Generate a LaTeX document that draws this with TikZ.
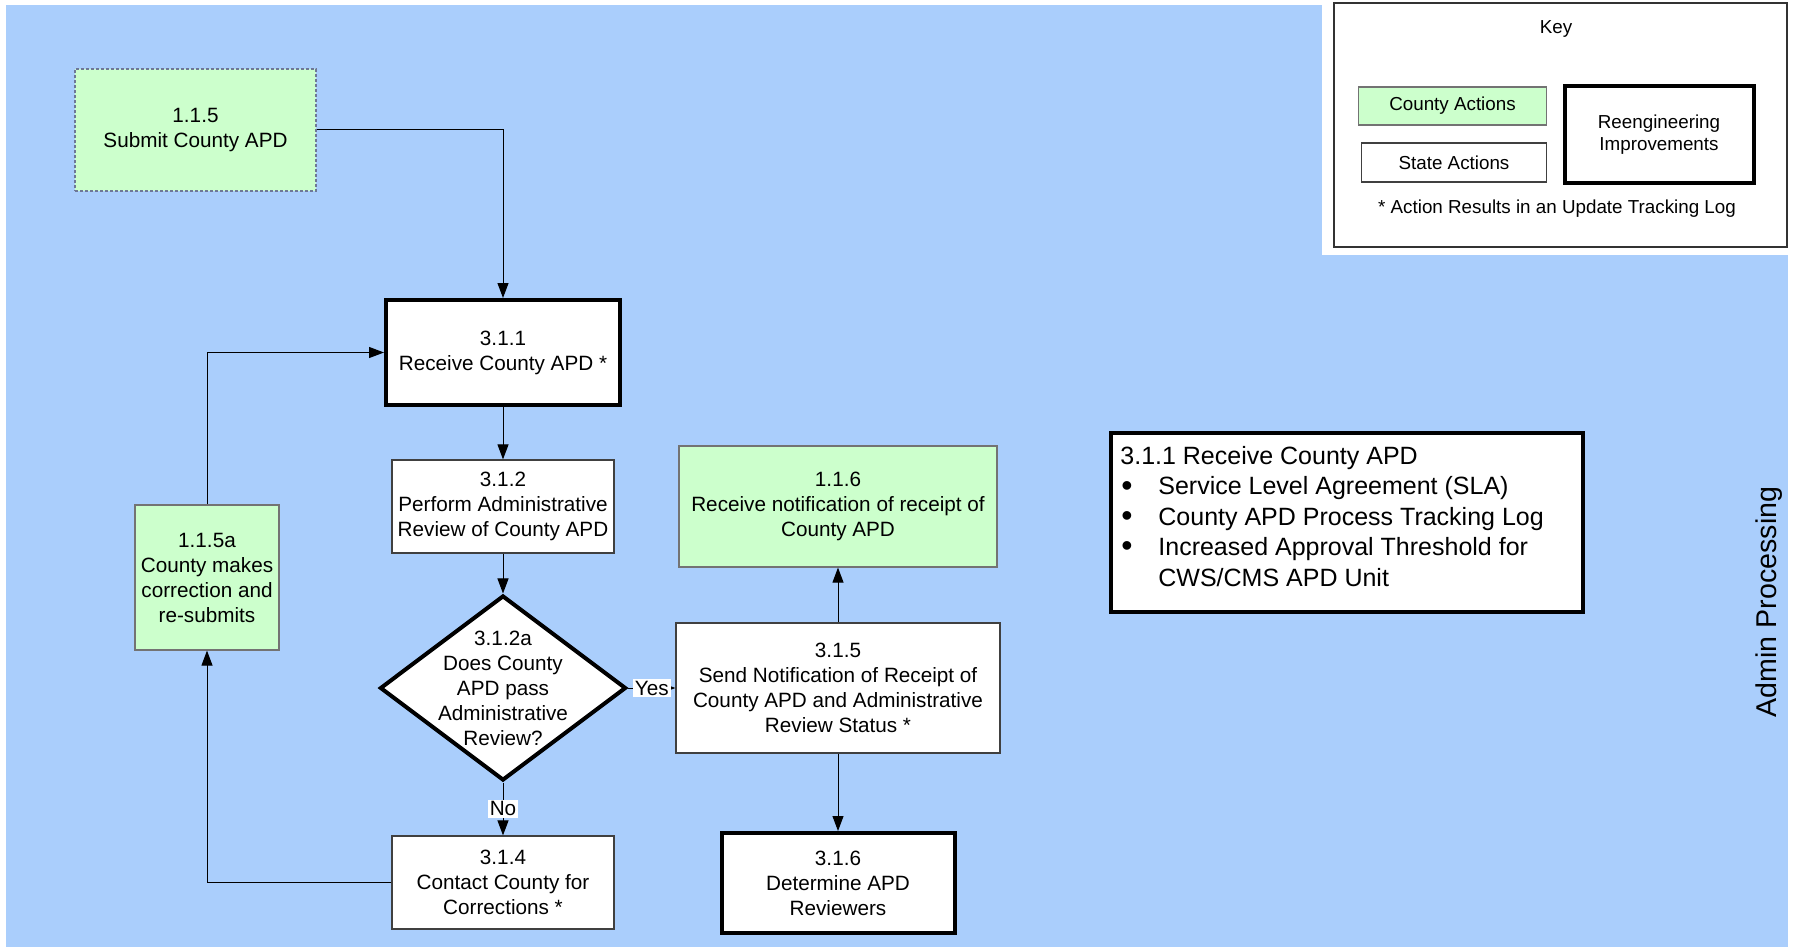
\documentclass[tikz,border=0pt]{standalone}
\usepackage{fontspec}
\setmainfont{Liberation Sans}
\usetikzlibrary{arrows.meta}
\usetikzlibrary{shapes.geometric}
\definecolor{lanebg}{RGB}{170,206,252}
\definecolor{countyfill}{RGB}{204,255,204}
\definecolor{dashgray}{RGB}{110,120,150}

\begin{document}
\begin{tikzpicture}[x=0.5pt, y=-0.5pt,
    every node/.style={font=\fontsize{10.35}{12.5}\selectfont, align=center, inner sep=0pt},
    state/.style={rectangle, draw=black!75, line width=0.6pt, fill=white},
    county/.style={rectangle, draw=black!55, line width=0.6pt, fill=countyfill},
    improved/.style={rectangle, draw=black, line width=2pt, fill=white},
    keyfont/.style={font=\fontsize{9.4}{11}\selectfont},
    conn/.style={-{Triangle[length=7.5pt, width=5.5pt]}, line width=0.5pt},
    tag/.style={fill=white, inner sep=1pt}]
      \useasboundingbox (0, 0) rectangle (1794, 947);
      \fill[lanebg] (6, 5) rectangle (1788, 947);
      \fill[white] (1322, 0) rectangle (1788, 255);

      % flow
      \node[county, draw=dashgray, dash pattern=on 1.5pt off 1pt, minimum width=120.5pt, minimum height=61pt] (115) at (195.5, 130) {1.1.5\\Submit County APD};
      \node[improved, minimum width=117pt, minimum height=52.5pt] (311) at (503, 352.5) {3.1.1\\Receive County APD *};
      \node[state, minimum width=111pt, minimum height=46.5pt] (312) at (503, 506.5) {3.1.2\\Perform Administrative\\Review of County APD};
      \node[diamond, draw=black, line width=2pt, fill=white, minimum width=123pt, minimum height=92.5pt] (312a) at (503, 688) {};
      \node (312atext) at (312a) {3.1.2a\\Does County\\APD pass\\Administrative\\Review?};
      \node[state, minimum width=162pt, minimum height=65pt] (315) at (838, 688) {3.1.5\\Send Notification of Receipt of\\County APD and Administrative\\Review Status *};
      \node[county, minimum width=159pt, minimum height=60.5pt] (116) at (838, 506.5) {1.1.6\\Receive notification of receipt of\\County APD};
      \node[improved, minimum width=116.5pt, minimum height=50pt] (316) at (838, 883) {3.1.6\\Determine APD\\Reviewers};
      \node[state, minimum width=111pt, minimum height=46.5pt] (314) at (503, 882.5) {3.1.4\\Contact County for\\Corrections *};
      \node[county, minimum width=72pt, minimum height=72.5pt] (115a) at (207, 577.5) {1.1.5a\\County makes\\correction and\\re-submits};

      \draw[conn] (115.east) -| (311.north);
      \draw[conn] (311) -- (312);
      \draw[conn] (312) -- (312a);
      \draw[conn] (312a) -- node[tag] {Yes} (315);
      \draw[conn] (312a) -- node[tag] {No} (314);
      \draw[conn] (315) -- (116);
      \draw[conn] (315) -- (316);
      \draw[conn] (314.west) -| (115a.south);
      \draw[conn] (115a.north) |- (311.west);

      % key
      \node[draw=black!80, line width=0.6pt, minimum width=226.5pt, minimum height=122pt] (key) at (1560.5, 125) {};
      \node[keyfont] (keytitle) at (1556, 29) {Key};
      \node[county, keyfont, minimum width=94pt, minimum height=19pt] (keycounty) at (1452.5, 106) {County Actions};
      \node[state, keyfont, minimum width=92.5pt, minimum height=19.5pt] (keystate) at (1454, 162.5) {State Actions};
      \node[improved, keyfont, minimum width=94.5pt, minimum height=48.5pt] (keyreeng) at (1659, 134.5) {Reengineering\\Improvements};
      \node[keyfont] (keynote) at (1557, 209) {* Action Results in an Update Tracking Log};

      % notes
      \node[improved, minimum width=236pt, minimum height=89.5pt] (sla) at (1347, 522.5) {};
      \node[anchor=north west, align=left, font=\fontsize{12.5}{15.2}\selectfont] (slatext) at (1120, 446) {3.1.1 Receive County APD\\
        \makebox[19pt][l]{\hspace{0.5pt}\raisebox{-0.6pt}{\fontsize{16}{16}\selectfont\textbullet}}Service Level Agreement (SLA)\\
        \makebox[19pt][l]{\hspace{0.5pt}\raisebox{-0.6pt}{\fontsize{16}{16}\selectfont\textbullet}}County APD Process Tracking Log\\
        \makebox[19pt][l]{\hspace{0.5pt}\raisebox{-0.6pt}{\fontsize{16}{16}\selectfont\textbullet}}Increased Approval Threshold for\\
        \hspace*{19pt}CWS/CMS APD Unit};

      \node[rotate=90, font=\fontsize{14.3}{17}\selectfont] (lane) at (1769, 602) {Admin Processing};
    \end{tikzpicture}
\end{document}
